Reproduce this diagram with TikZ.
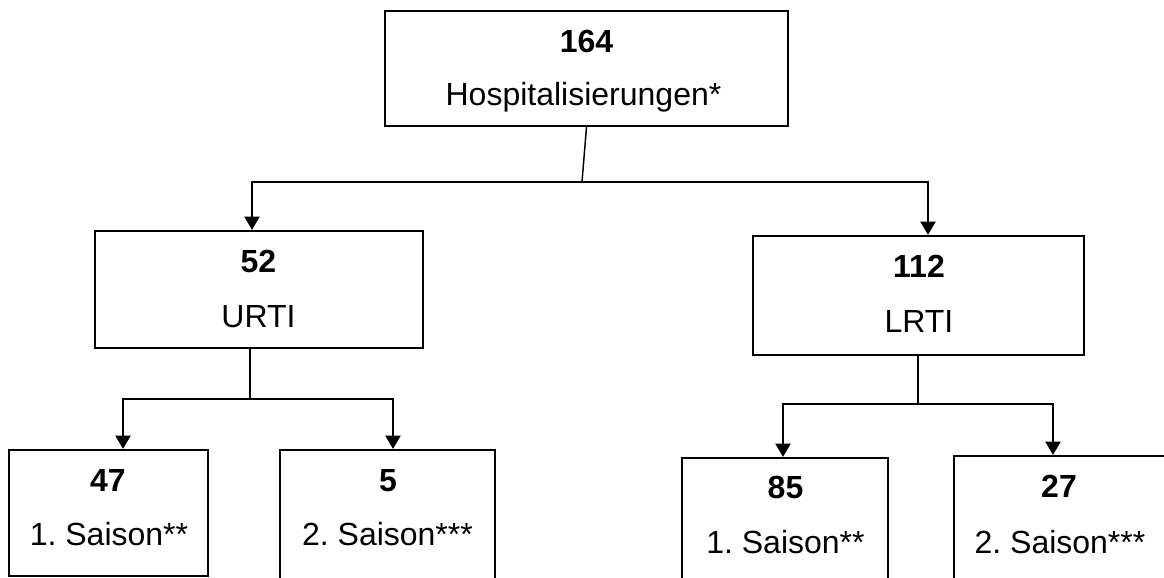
\documentclass[tikz,border=0pt]{standalone}
\usepackage{fontspec}
\setmainfont{Liberation Sans}
\usetikzlibrary{arrows.meta}

\begin{document}
\begin{tikzpicture}[x=0.75pt,y=0.75pt,yscale=-1,xscale=1,
  box/.style={draw, line width=1.5pt, inner sep=0pt},
  num/.style={anchor=base, inner sep=0pt, font=\fontsize{24}{28}\selectfont\bfseries},
  txt/.style={anchor=base, inner sep=0pt, font=\fontsize{24}{28}\selectfont\frenchspacing},
  link/.style={line width=2.2pt},
  thin link/.style={line width=1.1pt},
  arr/.style={line width=2.2pt, -{Triangle[width=11pt,length=10pt]}}]
\useasboundingbox (0,0) rectangle (1164,578);
\clip (0,0) rectangle (1164,578);

% Boxes
\node[box, minimum width=302.25pt, minimum height=86.25pt] (hosp) at (586.5,68.5) {};
\node[box, minimum width=246pt, minimum height=87.75pt] (urti) at (259,289.5) {};
\node[box, minimum width=248.25pt, minimum height=89.25pt] (lrti) at (918.5,295.5) {};
\node[box, minimum width=149.25pt, minimum height=94.5pt] (uone) at (108.5,513) {};
\node[box, minimum width=161.25pt, minimum height=120pt] (utwo) at (387.5,530) {};
\node[box, minimum width=154.5pt, minimum height=121.5pt] (lone) at (785,539) {};
\node[box, minimum width=184.5pt, minimum height=123pt] (ltwo) at (1077,538) {};

% Texts
\node[num] (hosp-n) at (586.5,52) {164};
\node[txt] (hosp-t) at (583.5,105) {Hospitalisierungen*};
\node[num] (urti-n) at (258.5,272) {52};
\node[txt] (urti-t) at (258.5,327) {URTI};
\node[num] (lrti-n) at (919,277) {112};
\node[txt] (lrti-t) at (919,332) {LRTI};
\node[num] (uone-n) at (108,491) {47};
\node[txt] (uone-t) at (109,545) {1. Saison**};
\node[num] (utwo-n) at (388,491) {5};
\node[txt] (utwo-t) at (387.5,545) {2. Saison***};
\node[num] (lone-n) at (785.5,498) {85};
\node[txt] (lone-t) at (785.5,553) {1. Saison**};
\node[num] (ltwo-n) at (1059,497) {27};
\node[txt] (ltwo-t) at (1060,553) {2. Saison***};

% Connectors
\coordinate (hj) at (582,182);
\coordinate (hl) at (252,182);
\coordinate (hr) at (928,182);
\draw[thin link] (hosp.south) -- (hj);
\draw[arr] (hj) -| (hl |- urti.north);
\draw[arr] (hj) -| (hr |- lrti.north);

\coordinate (uj) at (250,399);
\coordinate (ul) at (123,399);
\coordinate (ur) at (393,399);
\draw[link] (urti.south -| uj) -- (uj);
\draw[arr] (uj) -| (ul |- uone.north);
\draw[arr] (uj) -| (ur |- utwo.north);

\coordinate (lj) at (918,404);
\coordinate (ll) at (783,404);
\coordinate (lr) at (1053,404);
\draw[thin link] (lrti.south -| lj) -- (lj);
\draw[arr] (lj) -| (ll |- lone.north);
\draw[arr] (lj) -| (lr |- ltwo.north);

\end{tikzpicture}
\end{document}
